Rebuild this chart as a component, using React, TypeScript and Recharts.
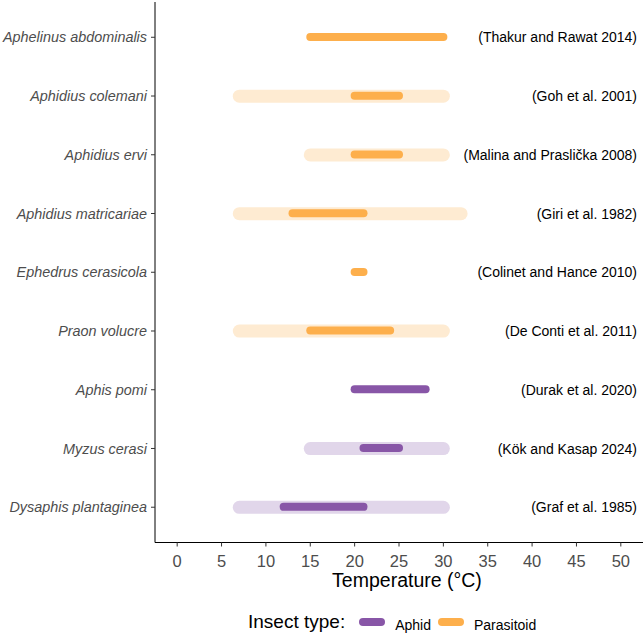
import React from "react";
import { ComposedChart, Bar, XAxis, YAxis, Legend } from "recharts";

const species = [
  "Aphelinus abdominalis",
  "Aphidius colemani",
  "Aphidius ervi",
  "Aphidius matricariae",
  "Ephedrus cerasicola",
  "Praon volucre",
  "Aphis pomi",
  "Myzus cerasi",
  "Dysaphis plantaginea",
];
const insectType = [
  "Parasitoid",
  "Parasitoid",
  "Parasitoid",
  "Parasitoid",
  "Parasitoid",
  "Parasitoid",
  "Aphid",
  "Aphid",
  "Aphid",
];
const rangeMin: (number | null)[] = [null, 7, 15, 7, null, 7, null, 15, 7];
const rangeMax: (number | null)[] = [null, 30, 30, 32, null, 30, null, 30, 30];
const optMin = [15, 20, 20, 13, 20, 15, 20, 21, 12];
const optMax = [30, 25, 25, 21, 21, 24, 28, 25, 21];
const references = [
  "(Thakur and Rawat 2014)",
  "(Goh et al. 2001)",
  "(Malina and Praslička 2008)",
  "(Giri et al. 1982)",
  "(Colinet and Hance 2010)",
  "(De Conti et al. 2011)",
  "(Durak et al. 2020)",
  "(Kök and Kasap 2024)",
  "(Graf et al. 1985)",
];
const xTicks = [0, 5, 10, 15, 20, 25, 30, 35, 40, 45, 50];

const COLORS: Record<string, { dark: string; light: string }> = {
  Aphid: { dark: "#8856A7", light: "#E1D6EA" },
  Parasitoid: { dark: "#FDAF4C", light: "#FEEBD2" },
};

const data = species.map((s, i) => ({
  species: s,
  type: insectType[i],
  ref: references[i],
  range:
    rangeMin[i] == null || rangeMax[i] == null
      ? null
      : [rangeMin[i] as number, rangeMax[i] as number],
  opt: [optMin[i], optMax[i]],
}));

const FONT = "'Liberation Sans', Arial, Helvetica, sans-serif";

const makeSeg = (kind: "dark" | "light") => (props: any) => {
  const { x, y, width, height, payload } = props;
  if (
    payload == null ||
    (kind === "light" && payload.range == null) ||
    !isFinite(x) ||
    !isFinite(width) ||
    !isFinite(y)
  ) {
    return <g />;
  }
  const cy = y + height / 2;
  const color = COLORS[payload.type][kind];
  return (
    <line
      x1={x}
      x2={x + width}
      y1={cy}
      y2={cy}
      stroke={color}
      strokeWidth={height}
      strokeLinecap="round"
    />
  );
};

const RefTick = (props: any) => {
  const { x, y, payload } = props;
  return (
    <text
      x={x}
      y={y}
      dy="0.36em"
      textAnchor="end"
      fontSize={14}
      fontFamily={FONT}
      fill="#000"
    >
      {payload.value}
    </text>
  );
};

const SpeciesTick = (props: any) => {
  const { x, y, payload } = props;
  return (
    <text
      x={x}
      y={y}
      dy="0.36em"
      textAnchor="end"
      fontSize={14.4}
      fontStyle="italic"
      fontFamily={FONT}
      fill="#4D4D4D"
    >
      {payload.value}
    </text>
  );
};

const LegendContent = () => (
  <div
    style={{
      height: 30,
      display: "flex",
      alignItems: "center",
      paddingLeft: 248,
      paddingTop: 2,
      boxSizing: "border-box",
      fontFamily: FONT,
      color: "#000",
    }}
  >
    <span style={{ fontSize: 19, marginRight: 14 }}>Insect type:</span>
    <span
      style={{
        display: "inline-block",
        width: 26,
        height: 8.5,
        borderRadius: 4.25,
        background: COLORS.Aphid.dark,
        marginRight: 10,
      }}
    />
    <span style={{ fontSize: 14, marginRight: 7, position: "relative", top: 3 }}>Aphid</span>
    <span
      style={{
        display: "inline-block",
        width: 26,
        height: 8.5,
        borderRadius: 4.25,
        background: COLORS.Parasitoid.dark,
        marginRight: 10,
      }}
    />
    <span style={{ fontSize: 14, position: "relative", top: 3 }}>Parasitoid</span>
  </div>
);

const XTitle = (props: any) => {
  const vb = props.viewBox || {};
  return (
    <text
      x={vb.x + vb.width / 2 + 8}
      y={vb.y + 44}
      textAnchor="middle"
      fontSize={19.5}
      fontFamily={FONT}
      fill="#000"
    >
      Temperature (°C)
    </text>
  );
};

export default function App() {
  return (
    <div style={{ position: "absolute", left: 0, top: 0, background: "#fff" }}>
      <ComposedChart
        width={644}
        height={636}
        data={data}
        layout="vertical"
        margin={{ top: 2, right: 1, left: 0, bottom: 0 }}
        style={{ fontFamily: FONT }}
      >
        <XAxis
          type="number"
          domain={[-2.5, 52.5]}
          ticks={xTicks}
          allowDataOverflow
          height={63.5}
          tickSize={4}
          tickMargin={9}
          stroke="#000"
          tick={{ fill: "#4D4D4D", fontSize: 16.5, fontFamily: FONT }}
          axisLine={{ stroke: "#000", strokeWidth: 1 }}
          tickLine={{ stroke: "#333" }}
          label={<XTitle />}
        />
        <YAxis
          yAxisId="main"
          type="category"
          dataKey="species"
          width={155}
          padding={{ top: 5.9, bottom: 5.9 }}
          tickSize={4}
          tickMargin={4}
          axisLine={{ stroke: "#000", strokeWidth: 1 }}
          tickLine={{ stroke: "#333" }}
          tick={<SpeciesTick />}
          interval={0}
        />
        <YAxis
          yAxisId="over"
          type="category"
          dataKey="species"
          hide
          padding={{ top: 5.9, bottom: 5.9 }}
        />
        <YAxis
          yAxisId="refs"
          type="category"
          dataKey="ref"
          orientation="right"
          mirror
          padding={{ top: 5.9, bottom: 5.9 }}
          axisLine={false}
          tickLine={false}
          tickSize={0}
          tickMargin={6}
          interval={0}
          tick={<RefTick />}
        />
        <Bar
          yAxisId="main"
          dataKey="range"
          barSize={13}
          isAnimationActive={false}
          shape={makeSeg("light")}
        />
        <Bar
          yAxisId="over"
          dataKey="opt"
          barSize={8}
          isAnimationActive={false}
          shape={makeSeg("dark")}
        />
        <Legend
          verticalAlign="bottom"
          content={<LegendContent />}
          wrapperStyle={{ margin: 0, padding: 0 }}
        />
      </ComposedChart>
    </div>
  );
}
